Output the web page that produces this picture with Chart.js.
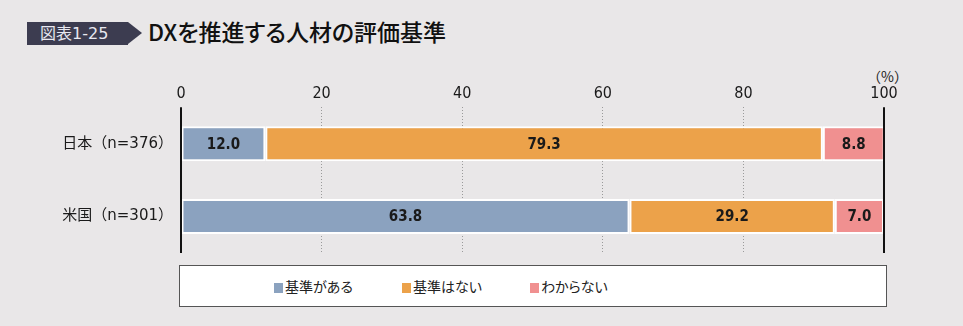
<!DOCTYPE html>
<html lang="ja">
<head>
<meta charset="UTF-8">
<title>DXを推進する人材の評価基準</title>
<script src="https://cdn.jsdelivr.net/npm/chart.js"></script>
<style>
    body { margin: 0; background: #e9e7e8; font-family: "Noto Sans CJK JP", "Noto Sans", sans-serif; color: #1a1a1a; }
    #wrap { position: relative; width: 963px; height: 326px; overflow: hidden; }
    #badge { position: absolute; left: 27px; top: 22px; width: 101px; height: 23px; background: #3c3c50; color: #e8e8f0; font-family: "DejaVu Sans", "Noto Sans CJK JP", sans-serif; font-size: 16px; line-height: 23px; padding-left: 13px; box-sizing: border-box; white-space: nowrap; }
    #badge:after { content: ''; position: absolute; left: 101px; top: 0; border-left: 14px solid #3c3c50; border-top: 11.5px solid transparent; border-bottom: 11.5px solid transparent; }
    #title { position: absolute; left: 148px; top: 16px; font-size: 23px; font-weight: 500; line-height: 30px; color: #111; font-feature-settings: "palt"; }
    #unit { position: absolute; left: 867px; top: 66px; font-size: 14px; color: #222; }
    #chartBox { position: absolute; left: 0; top: 0; width: 963px; height: 326px; }
    #legend { position: absolute; left: 179px; top: 265px; width: 708px; height: 42px; background: #fff; border: 1px solid #555; box-sizing: border-box; }
    .item { position: absolute; top: 11px; font-size: 14px; line-height: 18px; color: #222; font-feature-settings: "palt"; }
    .sw { display: inline-block; width: 9px; height: 10px; margin-right: 2px; vertical-align: -1px; }
</style>
</head>
<body>
<div id="wrap">
    <div id="badge">図表1-25</div>
    <div id="title">DXを推進する人材の評価基準</div>
    <div id="unit">（%）</div>
    <div id="chartBox"><canvas id="c" width="963" height="326"></canvas></div>
    <div id="legend"></div>
</div>
<script>
    // --- data ---
    const categories = ['日本（n=376）', '米国（n=301）'];
    const seriesNames = ['基準がある', '基準はない', 'わからない'];
    const hasCriteria = [12.0, 63.8];
    const noCriteria = [79.3, 29.2];
    const dontKnow = [8.8, 7.0];
    const tickValues = [0, 20, 40, 60, 80, 100];
    const colors = ['#8ba2bf', '#eca24a', '#f09090'];
    const legendX = [94, 222, 350];

    // legend in html
    const legend = document.getElementById('legend');
    seriesNames.forEach((name, i) => {
        const el = document.createElement('div');
        el.className = 'item';
        el.style.left = legendX[i] + 'px';
        el.innerHTML = `<span class="sw" style="background:${colors[i]}"></span>${name}`;
        legend.appendChild(el);
    });

    // vertical black lines at 0 and 100
    const edgeLines = {
        id: 'edgeLines',
        afterDatasetsDraw(chart) {
            const { ctx, chartArea, scales } = chart;
            ctx.save();
            ctx.strokeStyle = '#111';
            ctx.lineWidth = 2;
            [0, 100].forEach(v => {
                const x = Math.round(scales.x.getPixelForValue(v));
                ctx.beginPath();
                ctx.moveTo(x, chartArea.top);
                ctx.lineTo(x, chartArea.bottom);
                ctx.stroke();
            });
            ctx.restore();
        }
    };

    // value labels inside bars
    const valueLabels = {
        id: 'valueLabels',
        afterDatasetsDraw(chart) {
            const ctx = chart.ctx;
            ctx.save();
            ctx.font = 'bold 15px "DejaVu Sans Condensed", sans-serif';
            ctx.fillStyle = '#1a1a1a';
            ctx.textAlign = 'center';
            ctx.textBaseline = 'middle';
            chart.data.datasets.forEach((ds, di) => {
                chart.getDatasetMeta(di).data.forEach((bar, i) => {
                    const x = (bar.x + bar.base) / 2;
                    ctx.fillText(ds.data[i].toFixed(1), x, bar.y + 1);
                });
            });
            ctx.restore();
        }
    };

    const dsOpts = { borderColor: '#ffffff', borderWidth: 2, borderSkipped: false, categoryPercentage: 1, barPercentage: 0.48 };

    new Chart(document.getElementById('c'), {
        type: 'bar',
        data: {
            labels: categories,
            datasets: [
                { label: seriesNames[0], data: hasCriteria, backgroundColor: colors[0], ...dsOpts },
                { label: seriesNames[1], data: noCriteria, backgroundColor: colors[1], ...dsOpts },
                { label: seriesNames[2], data: dontKnow, backgroundColor: colors[2], ...dsOpts }
            ]
        },
        options: {
            indexAxis: 'y',
            responsive: false,
            animation: false,
            layout: { padding: { left: 0, right: 79, top: 80, bottom: 73 } },
            plugins: { legend: { display: false }, tooltip: { enabled: false } },
            scales: {
                x: {
                    position: 'top',
                    stacked: true,
                    min: 0, max: 100,
                    afterBuildTicks: axis => { axis.ticks = tickValues.map(v => ({ value: v })); },
                    ticks: { color: '#1a1a1a', padding: 4, font: { family: '"DejaVu Sans Condensed", sans-serif', size: 16 } },
                    grid: {
                        drawTicks: false,
                        color: ctx => (ctx.tick && (ctx.tick.value === 0 || ctx.tick.value === 100)) ? 'rgba(0,0,0,0)' : '#9a9a9a',
                        lineWidth: 1
                    },
                    border: { display: false, dash: [1, 2] }
                },
                y: {
                    stacked: true,
                    afterFit: axis => { axis.width = 181; },
                    ticks: { color: '#1a1a1a', padding: 0, font: { family: '"DejaVu Sans", "Noto Sans CJK JP", sans-serif', size: 15 } },
                    grid: { display: false },
                    border: { display: false }
                }
            }
        },
        plugins: [edgeLines, valueLabels]
    });
</script>
</body>
</html>
